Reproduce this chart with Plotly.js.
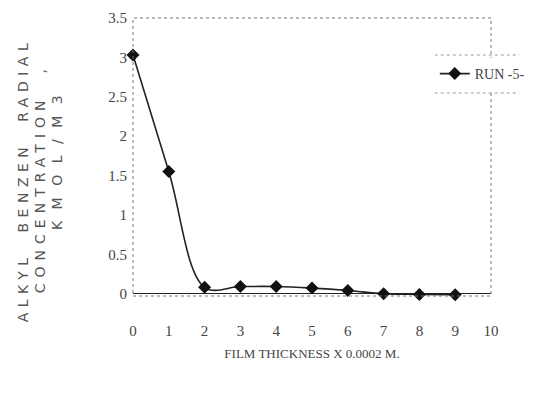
<!DOCTYPE html>
<html>
<head>
<meta charset="utf-8">
<script src="https://cdn.plot.ly/plotly-3.0.1.min.js"></script>
<style>html,body{margin:0;padding:0;background:#fff;}#chart{width:542px;height:394px;}</style>
</head>
<body>
<div id="chart"></div>
<script>
const thickness = [0, 1, 2, 3, 4, 5, 6, 7, 8, 9];
const run5 = [3.03, 1.55, 0.08, 0.09, 0.09, 0.07, 0.04, 0.0, -0.01, -0.015];
const xTicks = [0, 1, 2, 3, 4, 5, 6, 7, 8, 9, 10];
const yTicks = [0, 0.5, 1, 1.5, 2, 2.5, 3, 3.5];
const yTickText = ['0', '0.5', '1', '1.5', '2', '2.5', '3', '3.5'];
const yTitleLines = ['ALKYL  BENZEN  RADIAL', 'CONCENTRATION  ,', 'KMOL/M3'];

const serif = 'Liberation Serif, Times New Roman, serif';
const sans = 'DejaVu Sans, sans-serif';
const W = 542, H = 394, L = 133, R = 27, T = 18, B = 98;
const pw = W - L - R, ph = H - T - B;
const px = v => (v - L) / pw;
const py = v => (H - B - v) / ph;

const trace = {
  x: thickness, y: run5, type: 'scatter', mode: 'lines+markers', name: 'RUN -5-',
  line: {color: '#222', width: 1.6, shape: 'spline', smoothing: 1},
  marker: {symbol: 'diamond', size: 10, color: '#111'},
  cliponaxis: false
};

const titleSpec = [
  {x: 16, y: 180, ls: 5.5},
  {x: 34, y: 178, ls: 6},
  {x: 52, y: 157, ls: 11.5}
];
const annotations = yTitleLines.map((t, i) => ({
  text: '<span style="letter-spacing:' + titleSpec[i].ls + 'px">' + t + '</span>',
  xref: 'paper', yref: 'paper', x: px(titleSpec[i].x), y: py(titleSpec[i].y),
  xanchor: 'center', yanchor: 'middle', textangle: -90, showarrow: false,
  font: {family: sans, size: 14, color: '#555'}
}));

const layout = {
  width: W, height: H,
  margin: {l: L, r: R, t: T, b: B},
  paper_bgcolor: '#fff', plot_bgcolor: '#fff',
  showlegend: true,
  legend: {x: px(455), y: py(74), xanchor: 'left', yanchor: 'middle', xref: 'paper', yref: 'paper',
    font: {family: serif, size: 14, color: '#444'}, bgcolor: '#fff', borderwidth: 0},
  xaxis: {range: [0, 10], tickvals: xTicks, ticktext: xTicks.map(String), showgrid: false, zeroline: false,
    showline: false, ticks: '', ticklabelstandoff: 24, tickfont: {family: serif, size: 15, color: '#444'},
    title: {text: 'FILM THICKNESS X 0.0002 M.', font: {family: serif, size: 13, color: '#444'}, standoff: 10}},
  yaxis: {range: [-0.03, 3.5], tickvals: yTicks, ticktext: yTickText, showgrid: false, zeroline: true,
    zerolinecolor: '#222', zerolinewidth: 1.5, showline: false, ticks: '', ticklabelstandoff: 5,
    tickfont: {family: serif, size: 15, color: '#444'}},
  annotations: annotations,
  shapes: [
    {type: 'rect', xref: 'paper', yref: 'paper', x0: 0, x1: 1, y0: 0, y1: 1,
      line: {color: '#777', width: 1, dash: 'dot'}},
    {type: 'line', xref: 'paper', yref: 'paper', x0: px(455), x1: px(545), y0: py(55), y1: py(55),
      line: {color: '#999', width: 1, dash: 'dot'}},
    {type: 'line', xref: 'paper', yref: 'paper', x0: px(455), x1: px(545), y0: py(93), y1: py(93),
      line: {color: '#999', width: 1, dash: 'dot'}}
  ]
};
Plotly.newPlot('chart', [trace], layout, {displayModeBar: false, staticPlot: true});
</script>
</body>
</html>
